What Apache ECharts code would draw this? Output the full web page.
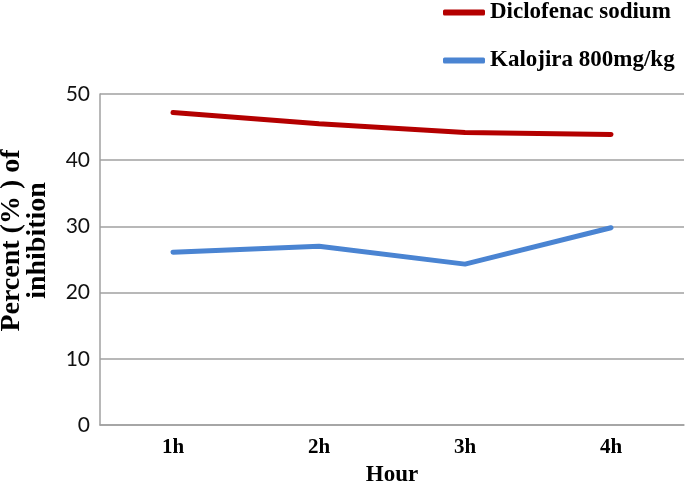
<!DOCTYPE html>
<html>
<head>
<meta charset="utf-8">
<script src="https://cdn.jsdelivr.net/npm/echarts@6/dist/echarts.min.js"></script>
<style>html,body{margin:0;padding:0;background:#fff;}#c{width:685px;height:486px;}</style>
</head>
<body>
<div id="c"></div>
<script>
const categories = ['1h', '2h', '3h', '4h'];
const diclofenac = [47.2, 45.5, 44.2, 43.9];
const kalojira = [26.1, 27.0, 24.3, 29.8];
const seriesNames = ['Diclofenac sodium', 'Kalojira 800mg/kg'];
const yTicks = { min: 0, max: 50, interval: 10 };

const serif = '"Liberation Serif", "Times New Roman", serif';
const sans = 'Lato, "Liberation Sans", sans-serif';
const chart = echarts.init(document.getElementById('c'));
const legendCommon = {
  left: 443, orient: 'vertical', icon: 'roundRect', itemWidth: 42, itemHeight: 6,
  itemGap: 4, padding: 0,
  textStyle: { fontFamily: serif, fontWeight: 'bold', fontSize: 23, color: '#000' }
};
chart.setOption({
  animation: false,
  backgroundColor: '#fff',
  legend: [
    Object.assign({}, legendCommon, { top: 1, data: [seriesNames[0]] }),
    Object.assign({}, legendCommon, { top: 49, data: [seriesNames[1]] })
  ],
  grid: { left: 100, right: 1, top: 94, bottom: 61, containLabel: false, outerBoundsMode: 'none' },
  xAxis: {
    type: 'category', data: categories, boundaryGap: true,
    name: 'Hour', nameLocation: 'middle', nameGap: 39,
    nameTextStyle: { fontFamily: serif, fontWeight: 'bold', fontSize: 23, color: '#000' },
    axisLine: { lineStyle: { color: '#a0a0a0', width: 1.5 } },
    axisTick: { show: false },
    axisLabel: { fontFamily: serif, fontWeight: 'bold', fontSize: 21, color: '#000', margin: 12 }
  },
  yAxis: {
    type: 'value', min: yTicks.min, max: yTicks.max, interval: yTicks.interval,
    name: 'Percent (% ) of\ninhibition', nameLocation: 'middle', nameRotate: 90, nameGap: 49,
    nameTextStyle: { fontFamily: serif, fontWeight: 'bold', fontSize: 28, color: '#000', lineHeight: 26, padding: [0, 0, 0, 38] },
    axisLine: { show: true, lineStyle: { color: '#a0a0a0', width: 1.5 } },
    axisTick: { show: false },
    splitLine: { lineStyle: { color: '#a0a0a0', width: 1.5 } },
    axisLabel: { fontFamily: sans, fontSize: 21, color: '#111', margin: 10 }
  },
  series: [
    { name: seriesNames[0], type: 'line', data: diclofenac, symbol: 'none',
      lineStyle: { color: '#b40000', width: 5, cap: 'round' }, itemStyle: { color: '#b40000' } },
    { name: seriesNames[1], type: 'line', data: kalojira, symbol: 'none',
      lineStyle: { color: '#4a84d2', width: 5, cap: 'round' }, itemStyle: { color: '#4a84d2' } }
  ]
});
</script>
</body>
</html>
